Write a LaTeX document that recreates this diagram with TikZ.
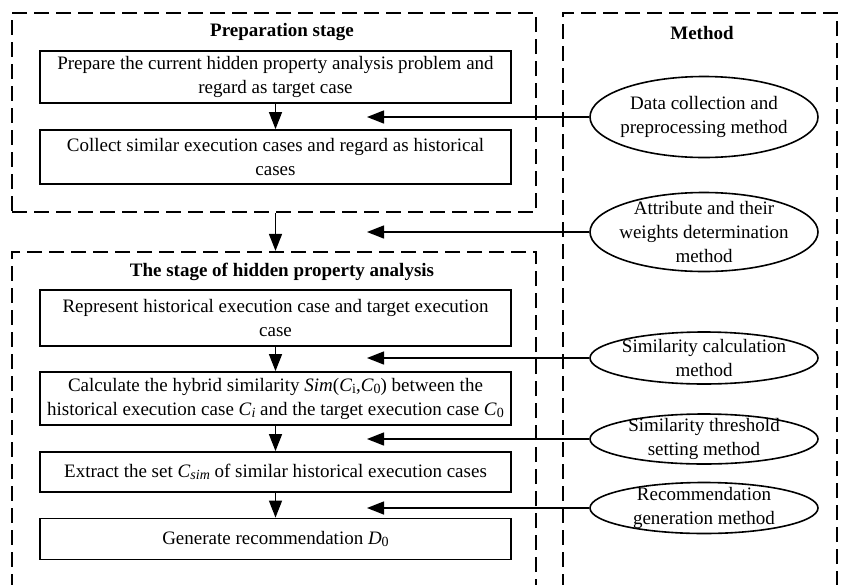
\documentclass[tikz,border=0pt]{standalone}
\usepackage{fontspec}
\setmainfont{Liberation Serif}
\usetikzlibrary{arrows.meta,shapes.geometric}
% small subscript set close to the baseline
\newcommand\lowsub[1]{\raisebox{-0.25ex}{\fontsize{14}{14}\selectfont #1}}

\begin{document}
\begin{tikzpicture}[x=1pt,y=-1pt,
  font=\fontsize{19}{24}\selectfont,
  stagebox/.style={draw, line width=2.2pt, dash pattern=on 15pt off 7pt, rectangle, inner sep=0pt},
  stepbox/.style={draw, line width=1.8pt, rectangle, minimum width=471pt, inner sep=0pt, align=center},
  methodell/.style={draw, line width=1.6pt, ellipse, minimum width=228pt, inner sep=0pt},
  mtext/.style={align=center, inner sep=0pt},
  arr/.style={line width=1.4pt, -{Triangle[length=17pt,width=13pt]}},
  title/.style={font=\fontsize{19}{24}\selectfont\bfseries, inner sep=0pt}
]
\useasboundingbox (0,0) rectangle (843,584);
\clip (0,0) rectangle (843,584);

% dashed frames (the lower ones run past the bottom edge)
\node[stagebox, minimum width=524pt, minimum height=199pt] (prep) at (274,112.5) {};
\node[stagebox, minimum width=524pt, minimum height=368pt] (stage) at (274,436) {};
\node[stagebox, minimum width=274pt, minimum height=607pt] (method) at (700,316.5) {};

% frame titles
\node[title] (tprep) at (282,32) {Preparation stage};
\node[title] (tstage) at (282,272) {The stage of hidden property analysis};
\node[title] (tmethod) at (702,33) {Method};

% process steps
\node[stepbox, minimum height=52pt] (b1) at (275.5,77) {Prepare the current hidden property analysis problem and\\regard as target case};
\node[stepbox, minimum height=54pt] (b2) at (275.5,157) {Collect similar execution cases and regard as historical\\cases};
\node[stepbox, minimum height=56pt] (b3) at (275.5,318) {Represent historical execution case and target execution\\case};
\node[stepbox, minimum height=53pt] (b4) at (275.5,398.5) {Calculate the hybrid similarity \textit{Sim}(\textit{C}\lowsub{i},\textit{C}\lowsub{0}) between the\\historical execution case \textit{C}\lowsub{\textit{i}} and the target execution case \textit{C}\lowsub{0}};
\node[stepbox, minimum height=40pt] (b5) at (275.5,472) {Extract the set \textit{C}\lowsub{\textit{sim}} of similar historical execution cases};
\node[stepbox, minimum height=41pt] (b6) at (275.5,539) {Generate recommendation \textit{D}\lowsub{0}};

% methods
\node[methodell, minimum height=81pt, label={[mtext]center:{Data collection and\\preprocessing method}}] (m1) at (704,117) {};
\node[methodell, minimum height=79pt, label={[mtext]center:{Attribute and their\\weights determination\\method}}] (m2) at (704,232) {};
\node[methodell, minimum height=52pt, label={[mtext]center:{Similarity calculation\\method}}] (m3) at (704,358) {};
\node[methodell, minimum height=50pt, label={[mtext]center:{Similarity threshold\\setting method}}] (m4) at (704,439) {};
\node[methodell, minimum height=51pt, label={[mtext]center:{Recommendation\\generation method}}] (m5) at (704,508) {};

% where the method arrows end
\coordinate (tip) at (367,0);

% flow between steps
\draw[arr] (b1.south) -- (b2.north);
\draw[arr] (b2.south |- prep.south) -- (b2.south |- stage.north);
\draw[arr] (b3.south) -- (b4.north);
\draw[arr] (b4.south) -- (b5.north);
\draw[arr] (b5.south) -- (b6.north);

% methods feeding the steps
\draw[arr] (m1.west) -- (m1.west -| tip);
\draw[arr] (m2.west) -- (m2.west -| tip);
\draw[arr] (m3.west) -- (m3.west -| tip);
\draw[arr] (m4.west) -- (m4.west -| tip);
\draw[arr] (m5.west) -- (m5.west -| tip);
\end{tikzpicture}
\end{document}
